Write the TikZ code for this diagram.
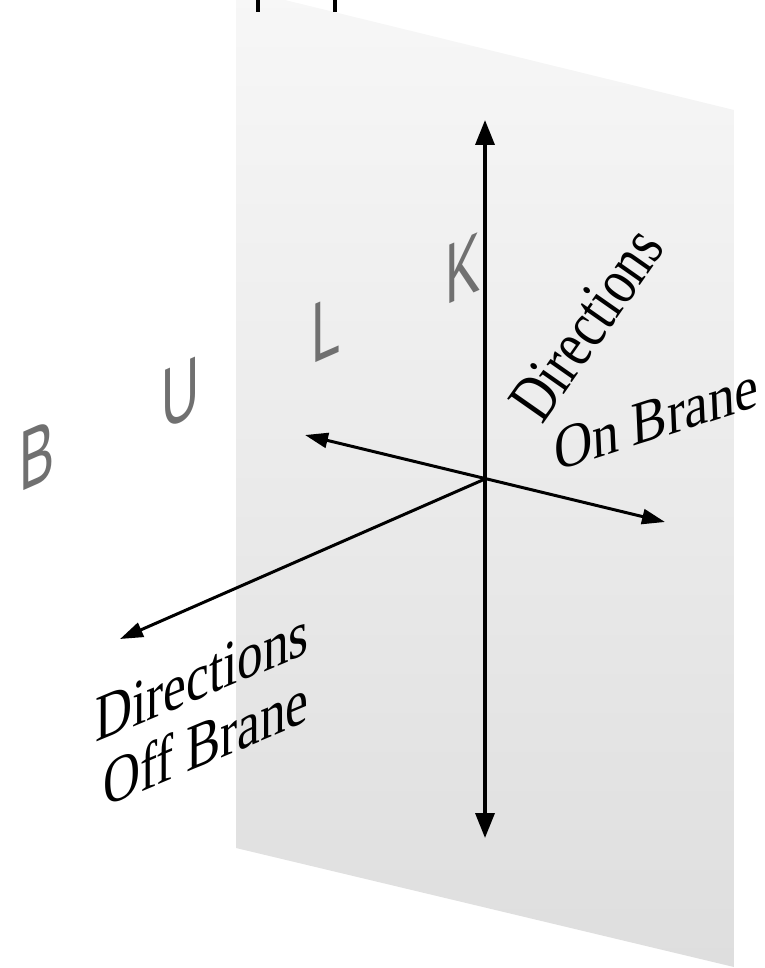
\documentclass[tikz,border=0pt]{standalone}
\usepackage{fontspec}
\setmainfont{Liberation Serif}
\newfontfamily\bulkfont{Liberation Sans}
\usetikzlibrary{arrows.meta}
\definecolor{planetop}{RGB}{247,247,247}
\definecolor{planebot}{RGB}{222,222,222}
\definecolor{bulkgray}{RGB}{112,112,112}
\begin{document}
\begin{tikzpicture}[x=1pt,y=1pt,
  vaxis/.style={line width=3.5pt,black,{Triangle[length=25pt,width=19pt]}-{Triangle[length=25pt,width=19pt]}},
  haxis/.style={line width=3pt,black,{Triangle[length=23pt,width=15pt]}-{Triangle[length=23pt,width=15pt]}},
  oaxis/.style={line width=3pt,black,-{Triangle[length=23pt,width=15pt]}},
  bulkletter/.style={font=\bulkfont\fontsize{85}{85}\selectfont,text=bulkgray,inner sep=0pt,anchor=base west,cm={0.62,0.273,0,1.0,(0,0)}},
  bulktext/.style={font=\fontsize{54}{54}\selectfont,inner sep=0pt,anchor=base west,cm={0.95,0.40,0,1.22,(0,0)}},
  branetext/.style={inner sep=0pt,anchor=base west},
  topmark/.style={line width=3.2pt,black}
]
\useasboundingbox (0,-968) rectangle (764,0);
\clip (0,-968) rectangle (764,0);
% the brane
\shade[top color=planetop,bottom color=planebot] (236,12) -- (734,-110) -- (734,-967) -- (236,-848) -- cycle;
% marks at the top edge
\coordinate (m1a) at (258,0); \coordinate (m1b) at (258,-12);
\coordinate (m2a) at (335,0); \coordinate (m2b) at (335,-12);
\draw[topmark] (m1a) -- (m1b);
\draw[topmark] (m2a) -- (m2b);
% BULK
\node[bulkletter] (B) at (19,-493) {B};
\node[bulkletter] (U) at (161,-431) {U};
\node[bulkletter] (L) at (311,-365) {L};
\node[bulkletter] (K) at (445,-306) {K};
% axes
\coordinate (O) at (485,-479);
\coordinate (top) at (485,-120);
\coordinate (bot) at (485,-838);
\coordinate (onL) at (305,-435);
\coordinate (onR) at (665,-522);
\coordinate (off) at (120,-639);
\draw[vaxis] (bot) -- (top);
\draw[haxis] (onL) -- (onR);
\draw[oaxis] (O) -- (off);
% labels
\node[bulktext] (dirA) at (95,-743) {Directions};
\node[bulktext] (offB) at (103,-808) {Off Brane};
\node[branetext,font=\fontsize{52}{52}\selectfont,cm={0.574,0.819,-1.05,0.735,(0,0)}] (dirB) at (542,-426) {Directions};
\node[branetext,font=\fontsize{55}{55}\selectfont,cm={0.96,0.31,-0.05,1.12,(0,0)}] (onB) at (555,-472) {On Brane};
\end{tikzpicture}
\end{document}
